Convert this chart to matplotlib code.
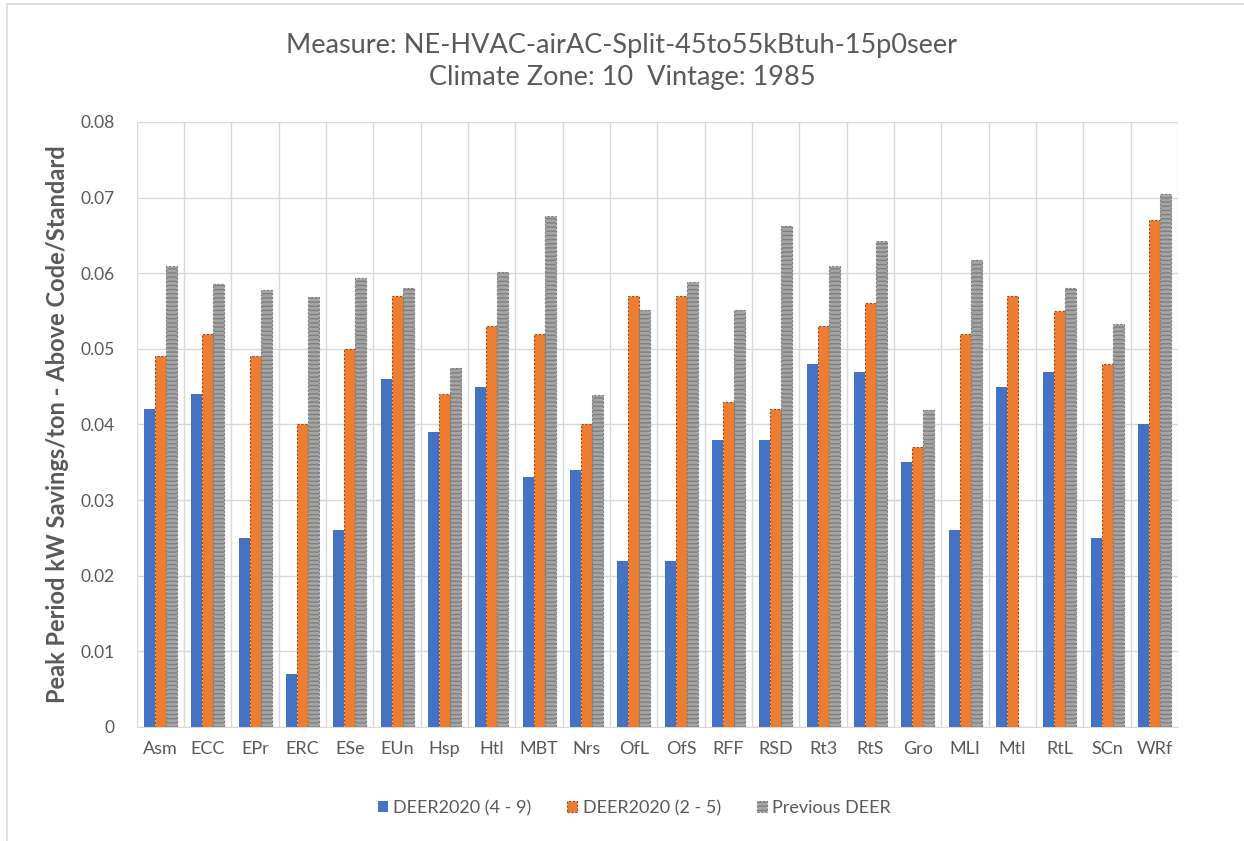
import matplotlib
matplotlib.use("Agg")
import matplotlib.pyplot as plt
import numpy as np
from matplotlib.patches import Rectangle

categories = ["Asm", "ECC", "EPr", "ERC", "ESe", "EUn", "Hsp", "Htl", "MBT", "Nrs", "OfL",
              "OfS", "RFF", "RSD", "Rt3", "RtS", "Gro", "MLI", "Mtl", "RtL", "SCn", "WRf"]
deer2020_4_9 = [0.042, 0.044, 0.025, 0.007, 0.026, 0.046, 0.039, 0.045, 0.033, 0.034, 0.022,
                0.022, 0.038, 0.038, 0.048, 0.047, 0.035, 0.026, 0.045, 0.047, 0.025, 0.040]
deer2020_2_5 = [0.049, 0.052, 0.049, 0.040, 0.050, 0.057, 0.044, 0.053, 0.052, 0.040, 0.057,
                0.057, 0.043, 0.042, 0.053, 0.056, 0.037, 0.052, 0.057, 0.055, 0.048, 0.067]
previous_deer = [0.0610, 0.0586, 0.0578, 0.0569, 0.0593, 0.0580, 0.0474, 0.0601, 0.0676, 0.0439, 0.0551,
                 0.0589, 0.0551, 0.0662, 0.0609, 0.0642, 0.0419, 0.0618, 0.0, 0.0581, 0.0533, 0.0705]
series_names = ["DEER2020 (4 - 9)", "DEER2020 (2 - 5)", "Previous DEER"]
yticks = [0, 0.01, 0.02, 0.03, 0.04, 0.05, 0.06, 0.07, 0.08]
ytick_labels = ["0", "0.01", "0.02", "0.03", "0.04", "0.05", "0.06", "0.07", "0.08"]

plt.rcParams['font.family'] = ['Lato', 'DejaVu Sans']
plt.rcParams['hatch.color'] = "#8C8C8C"
txt = "#595959"

fig = plt.figure(figsize=(12.44, 8.41), dpi=100)
ax = fig.add_axes([0.110, 0.1356, 0.837, 0.7194])

x = np.arange(len(categories))
w = 0.232
ax.bar(x - w, deer2020_4_9, w, color="#4472C4", label=series_names[0], zorder=3)
ax.bar(x, deer2020_2_5, w, color="#ED7D31", edgecolor="#9E4A17", linestyle=(0, (2, 1.5)),
       linewidth=0.8, label=series_names[1], zorder=3)
ax.bar(x + w, previous_deer, w, color="#A5A5A5", edgecolor="#7F7F7F", hatch="----",
       linewidth=0.8, linestyle=(0, (2, 1.5)), label=series_names[2], zorder=3)

ax.set_xlim(-0.5, len(categories) - 0.5)
ax.set_ylim(0, 0.08)
ax.set_yticks(yticks)
ax.set_yticklabels(ytick_labels)
ax.set_xticks(x)
ax.set_xticklabels(categories)
ax.set_xticks(np.arange(-0.5, len(categories), 1), minor=True)
ax.grid(axis="y", which="major", color="#D9D9D9", linewidth=1, zorder=0)
ax.grid(axis="x", which="minor", color="#D9D9D9", linewidth=1, zorder=0)
ax.grid(axis="x", which="major", visible=False)
ax.tick_params(axis="both", which="both", length=0, colors=txt)
ax.tick_params(axis="x", labelsize=13, pad=10)
ax.tick_params(axis="y", labelsize=12.5, pad=16)
for s in ["top", "right", "left"]:
    ax.spines[s].set_visible(False)
ax.spines["bottom"].set_color("#D9D9D9")

ax.set_ylabel("Peak Period kW Savings/ton - Above Code/Standard", fontsize=17,
              fontweight="bold", color=txt, labelpad=8)

fig.text(0.5, 0.946, "Measure: NE-HVAC-airAC-Split-45to55kBtuh-15p0seer", ha="center",
         va="center", fontsize=19.5, color=txt)
fig.text(0.5, 0.908, "Climate Zone: 10  Vintage: 1985", ha="center",
         va="center", fontsize=19.5, color=txt)

leg = fig.legend(loc="center", bbox_to_anchor=(0.51, 0.039), ncol=3, frameon=False,
                 fontsize=13, handlelength=0.55, handleheight=0.55, handletextpad=0.3,
                 columnspacing=2.0)
for t in leg.get_texts():
    t.set_color(txt)

fig.patches.append(Rectangle((7 / 1244, -0.1), 1.2, 1.1 - 4.5 / 841, transform=fig.transFigure,
                             fill=False, edgecolor="#D9D9D9", linewidth=1.2))

fig.savefig("out.png", dpi=100)
